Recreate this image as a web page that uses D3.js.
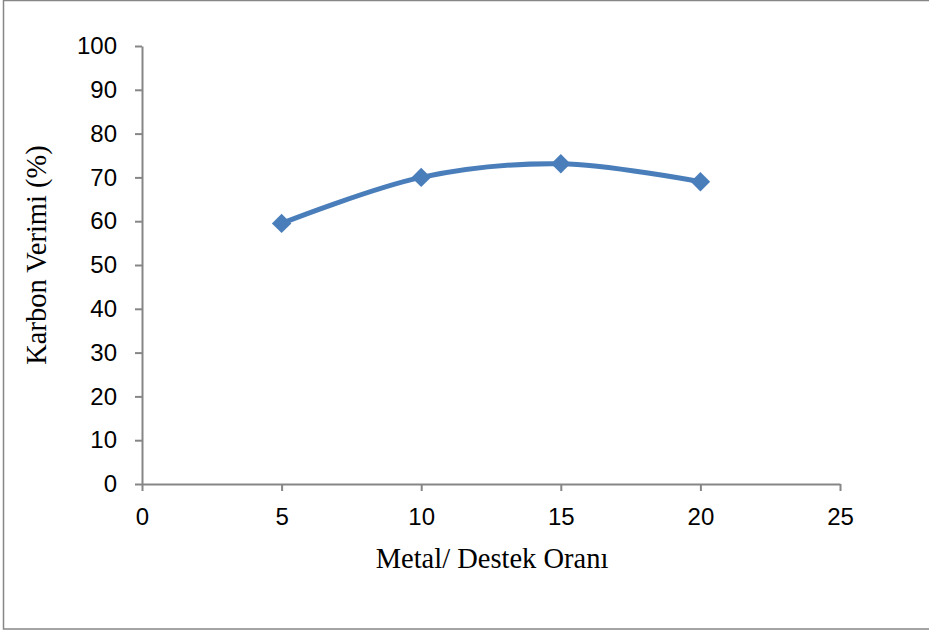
<!DOCTYPE html>
<html>
<head>
<meta charset="utf-8">
<script src="https://cdn.jsdelivr.net/npm/d3@7"></script>
<style>
  html, body { margin: 0; padding: 0; background: #fff; }
  svg { display: block; }
</style>
</head>
<body>
<svg id="chart" width="929" height="632"></svg>
<script>
// Metal / support ratio vs. carbon yield
const ratios = [5, 10, 15, 20];
const carbonYield = [59.5, 70, 73.1, 69];
const xTicks = [0, 5, 10, 15, 20, 25];
const yTicks = [0, 10, 20, 30, 40, 50, 60, 70, 80, 90, 100];
const xTitle = "Metal/ Destek Oranı";
const yTitle = "Karbon Verimi (%)";

const svg = d3.select("#chart");
const axisColor = "#868686";
const lineColor = "#4a7ebb";
const tickFont = "'Liberation Sans', Arial, sans-serif";
const titleFont = "'Liberation Serif', 'Times New Roman', serif";

// outer frame
svg.append("rect")
  .attr("x", 3.5).attr("y", 0.5)
  .attr("width", 940).attr("height", 628.5)
  .attr("fill", "none").attr("stroke", axisColor).attr("stroke-width", 1.5);

const x = d3.scaleLinear().domain([0, 25]).range([142, 840]);
const y = d3.scaleLinear().domain([0, 100]).range([484, 46]);

// y axis
const yAxis = svg.append("g")
  .attr("transform", `translate(${x(0)},0)`)
  .call(d3.axisLeft(y).tickValues(yTicks).tickSize(7).tickPadding(18).tickSizeOuter(0));
// x axis
const xAxis = svg.append("g")
  .attr("transform", `translate(0,${y(0)})`)
  .call(d3.axisBottom(x).tickValues(xTicks).tickSize(7).tickPadding(17).tickSizeOuter(0));

[xAxis, yAxis].forEach(g => {
  g.select(".domain").attr("stroke", axisColor).attr("stroke-width", 2);
  g.selectAll(".tick line").attr("stroke", axisColor).attr("stroke-width", 2);
  g.selectAll(".tick text")
    .attr("fill", "#000")
    .style("font-family", tickFont)
    .style("font-size", "24px");
});

// data line
const line = d3.line()
  .x((d, i) => x(ratios[i]))
  .y(d => y(d))
  .curve(d3.curveCatmullRom.alpha(0.5));

svg.append("path")
  .datum(carbonYield)
  .attr("d", line)
  .attr("fill", "none")
  .attr("stroke", lineColor)
  .attr("stroke-width", 5)
  .attr("stroke-linecap", "round");

// diamond markers
const diamond = d3.symbol().type(d3.symbolDiamond2).size(240);
svg.selectAll(".marker")
  .data(carbonYield)
  .join("path")
  .attr("class", "marker")
  .attr("d", diamond)
  .attr("transform", (d, i) => `translate(${x(ratios[i])},${y(d)})`)
  .attr("fill", lineColor);

// axis titles
svg.append("text")
  .attr("x", 492).attr("y", 568)
  .attr("text-anchor", "middle")
  .style("font-family", titleFont)
  .style("font-size", "28.5px")
  .text(xTitle);

svg.append("text")
  .attr("transform", "translate(46,255) rotate(-90)")
  .attr("text-anchor", "middle")
  .style("font-family", titleFont)
  .style("font-size", "28.5px")
  .text(yTitle);
</script>
</body>
</html>
